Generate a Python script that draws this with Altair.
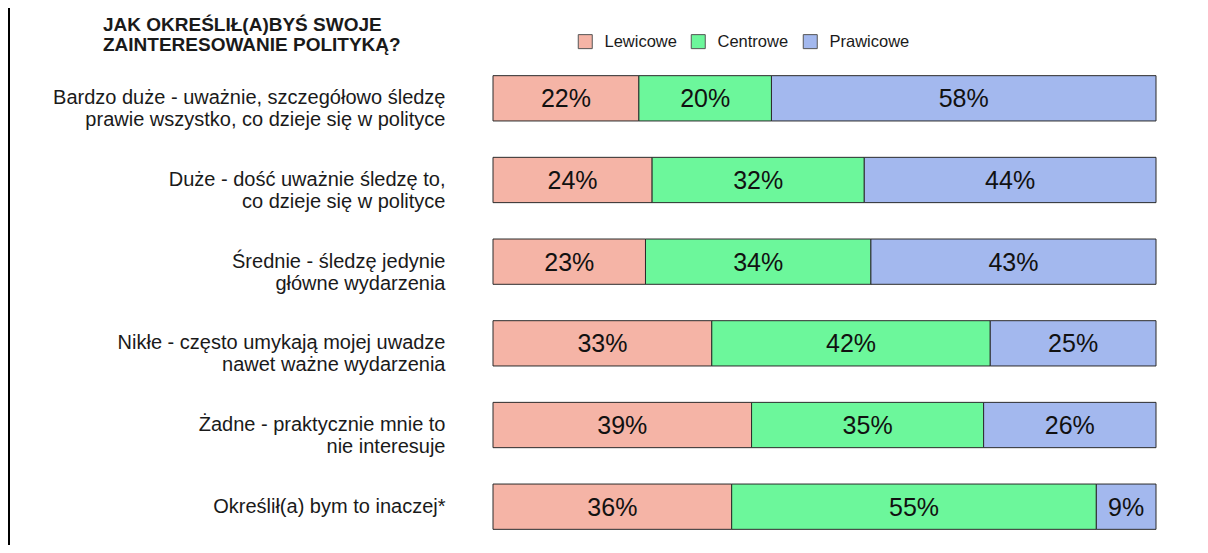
import altair as alt
import pandas as pd

# ---- data ----
categories = [
    "Bardzo duże - uważnie, szczegółowo śledzę|prawie wszystko, co dzieje się w polityce",
    "Duże - dość uważnie śledzę to,|co dzieje się w polityce",
    "Średnie - śledzę jedynie|główne wydarzenia",
    "Nikłe - często umykają mojej uwadze|nawet ważne wydarzenia",
    "Żadne - praktycznie mnie to|nie interesuje",
    "Określił(a) bym to inaczej*",
]
series = ["Lewicowe", "Centrowe", "Prawicowe"]
lewicowe = [22, 24, 23, 33, 39, 36]
centrowe = [20, 32, 34, 42, 35, 55]
prawicowe = [58, 44, 43, 25, 26, 9]
colors = ["#F5B4A6", "#6CF79B", "#A3B8EE"]
title_lines = ["JAK OKREŚLIŁ(A)BYŚ SWOJE", "ZAINTERESOWANIE POLITYKĄ?"]

rows = []
for i, cat in enumerate(categories):
    for j, (name, vals) in enumerate(zip(series, [lewicowe, centrowe, prawicowe])):
        rows.append({"category": cat, "series": name, "order": j, "value": vals[i]})
df = pd.DataFrame(rows)

FONT = "Liberation Sans"

base = (
    alt.Chart(df)
    .transform_stack(
        stack="value",
        groupby=["category"],
        as_=["x0", "x1"],
        sort=[alt.SortField("order", order="ascending")],
    )
    .transform_calculate(mid="(datum.x0 + datum.x1) / 2", label="datum.value + '%'")
)

yenc = alt.Y(
    "category:N",
    sort=categories,
    scale=alt.Scale(paddingInner=0.4455, paddingOuter=0.0694),
    axis=alt.Axis(
        title=None,
        domain=False,
        ticks=False,
        labelPadding=48,
        labelFontSize=20,
        labelFont=FONT,
        labelColor="#1a1a1a",
        labelLineHeight=22,
        labelLimit=600,
        labelExpr="split(datum.label, '|')",
    ),
)

xscale = alt.Scale(domain=[0, 100], nice=False, zero=True)

bars = base.mark_bar(stroke="#2b2b2b", strokeWidth=1).encode(
    y=yenc,
    x=alt.X("x0:Q", scale=xscale, axis=None),
    x2="x1:Q",
    color=alt.Color(
        "series:N",
        scale=alt.Scale(domain=series, range=colors),
        legend=alt.Legend(
            title=None,
            orient="none",
            direction="horizontal",
            legendX=84,
            legendY=-37,
            symbolType="square",
            symbolSize=196,
            symbolStrokeColor="#555555",
            symbolStrokeWidth=1,
            symbolOpacity=1,
            labelFontSize=16.5,
            labelFont=FONT,
            labelColor="#1a1a1a",
            labelOffset=11,
            columnPadding=12,
            padding=0,
        ),
    ),
)

texts = base.mark_text(fontSize=25, font=FONT, color="#111111", baseline="middle", dy=1).encode(
    y=alt.Y("category:N", sort=categories),
    x=alt.X("mid:Q", scale=xscale),
    text="label:N",
)

one = pd.DataFrame({"k": [0]})

title_mark = alt.Chart(one).mark_text(
    align="left",
    baseline="alphabetic",
    fontSize=19,
    font=FONT,
    fontWeight="bold",
    color="#1a1a1a",
    lineBreak="\n",
    lineHeight=20.5,
).encode(
    x=alt.value(-390),
    y=alt.value(-39.5),
    text=alt.value("\n".join(title_lines)),
)

border = alt.Chart(one).mark_rule(color="#000000", strokeWidth=3).encode(
    x=alt.value(-484.5),
    y=alt.value(-62),
    y2=alt.value(480),
)

chart = (
    alt.layer(bars, texts, title_mark, border)
    .properties(
        width=663,
        height=465,
        autosize=alt.AutoSizeParams(type="none"),
        padding={"left": 485, "top": 62, "right": 30, "bottom": 10},
        background="white",
    )
    .configure_view(strokeWidth=0)
)

chart.save("out.html", embed_options={"renderer": "svg", "actions": False})
